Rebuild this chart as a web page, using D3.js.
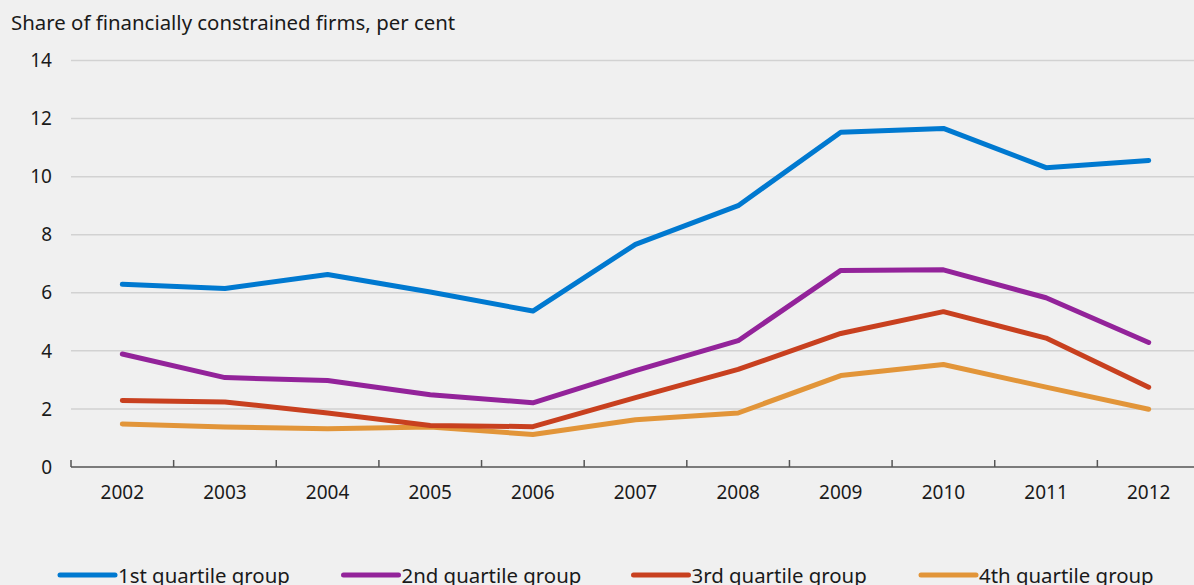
<!DOCTYPE html>
<html>
<head>
<meta charset="utf-8">
<script src="https://cdn.jsdelivr.net/npm/d3@7"></script>
<style>
  html, body { margin: 0; padding: 0; background: #f0f0f0; overflow: hidden; }
  svg { display: block; font-family: "Noto Sans", "Open Sans", sans-serif; }
</style>
</head>
<body>
<svg id="chart" width="1194" height="585"></svg>
<script>
// Years on the x axis
const years = ["2002", "2003", "2004", "2005", "2006", "2007", "2008", "2009", "2010", "2011", "2012"];

// Share of financially constrained firms, per cent, by quartile group
const q1 = [6.29, 6.15, 6.63, 6.03, 5.37, 7.67, 9.00, 11.53, 11.66, 10.31, 10.56];
const q2 = [3.89, 3.08, 2.98, 2.49, 2.21, 3.32, 4.35, 6.77, 6.79, 5.83, 4.29];
const q3 = [2.29, 2.24, 1.86, 1.43, 1.39, 2.39, 3.36, 4.60, 5.35, 4.44, 2.75];
const q4 = [1.48, 1.38, 1.32, 1.38, 1.12, 1.63, 1.86, 3.15, 3.53, 2.75, 1.99];

const seriesNames = ["1st quartile group", "2nd quartile group", "3rd quartile group", "4th quartile group"];
const yTicks = [0, 2, 4, 6, 8, 10, 12, 14];

const series = [
  { name: seriesNames[0], values: q1, color: "#0079d0" },
  { name: seriesNames[1], values: q2, color: "#93239a" },
  { name: seriesNames[2], values: q3, color: "#c8401f" },
  { name: seriesNames[3], values: q4, color: "#e29539" }
];

const W = 1194, H = 585;
const svg = d3.select("#chart");
const textColor = "#1a1a1a";

const x = d3.scaleBand().domain(years).range([71, 1200]).padding(0);
const y = d3.scaleLinear().domain([0, 14]).range([467, 60.5]);

// Title
svg.append("text")
  .attr("x", 11).attr("y", 30)
  .attr("font-size", 20.4).attr("fill", textColor)
  .text("Share of financially constrained firms, per cent");

// Horizontal gridlines
svg.append("g")
  .selectAll("line")
  .data(yTicks.filter(d => d > 0))
  .join("line")
  .attr("x1", 71).attr("x2", W)
  .attr("y1", d => y(d)).attr("y2", d => y(d))
  .attr("stroke", "#d2d2d2").attr("stroke-width", 1.5);

// Y tick labels
svg.append("g")
  .selectAll("text")
  .data(yTicks)
  .join("text")
  .attr("x", 52).attr("y", d => y(d))
  .attr("dy", "0.35em")
  .attr("text-anchor", "end")
  .attr("font-size", 19).attr("fill", textColor)
  .text(d => d);

// X axis: baseline with upward ticks at band boundaries
const axisG = svg.append("g");
axisG.append("line")
  .attr("x1", 71).attr("x2", W)
  .attr("y1", y(0)).attr("y2", y(0))
  .attr("stroke", "#555").attr("stroke-width", 1.5);
axisG.selectAll("line.tick")
  .data(years)
  .join("line")
  .attr("class", "tick")
  .attr("x1", d => x(d)).attr("x2", d => x(d))
  .attr("y1", y(0)).attr("y2", y(0) - 7)
  .attr("stroke", "#555").attr("stroke-width", 1.5);
axisG.selectAll("text")
  .data(years)
  .join("text")
  .attr("x", d => x(d) + x.bandwidth() / 2)
  .attr("y", 499)
  .attr("text-anchor", "middle")
  .attr("font-size", 19).attr("fill", textColor)
  .text(d => d);

// Lines
const line = d3.line()
  .x((d, i) => x(years[i]) + x.bandwidth() / 2)
  .y(d => y(d));

svg.append("g")
  .selectAll("path")
  .data(series.slice().reverse())
  .join("path")
  .attr("d", d => line(d.values))
  .attr("fill", "none")
  .attr("stroke", d => d.color)
  .attr("stroke-width", 5)
  .attr("stroke-linejoin", "round")
  .attr("stroke-linecap", "round");

// Legend
const legendX = [60, 343.5, 633.5, 921];
const legend = svg.append("g")
  .selectAll("g")
  .data(series)
  .join("g")
  .attr("transform", (d, i) => `translate(${legendX[i]},575)`);
legend.append("line")
  .attr("x1", 0).attr("x2", 55)
  .attr("y1", 0).attr("y2", 0)
  .attr("stroke", d => d.color)
  .attr("stroke-width", 5)
  .attr("stroke-linecap", "round");
legend.append("text")
  .attr("x", 58).attr("y", 8)
  .attr("font-size", 20.4).attr("fill", textColor)
  .text(d => d.name);
</script>
</body>
</html>
